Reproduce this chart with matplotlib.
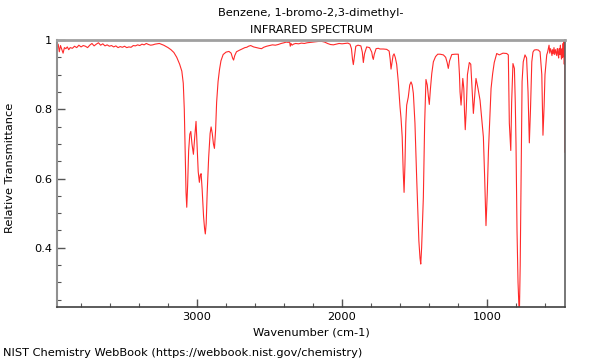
import matplotlib
matplotlib.use("Agg")
import matplotlib.pyplot as plt
from matplotlib.ticker import MultipleLocator, FixedLocator

title_line1 = "Benzene, 1-bromo-2,3-dimethyl-"
title_line2 = "INFRARED SPECTRUM"
x_label = "Wavenumber (cm-1)"
y_label = "Relative Transmittance"
footer = "NIST Chemistry WebBook (https://webbook.nist.gov/chemistry)"

x_ticks = [3000, 2000, 1000]
y_ticks = [0.4, 0.6, 0.8, 1.0]
y_tick_labels = ["0.4", "0.6", "0.8", "1"]

wavenumber = [
    3966, 3958, 3950, 3942, 3934, 3924, 3915, 3905, 3895, 3885, 3875, 3860, 3845, 3830,
    3815, 3800, 3785, 3770, 3755, 3740, 3725, 3710, 3695, 3680, 3665, 3650, 3635, 3620,
    3605, 3590, 3575, 3560, 3545, 3530, 3515, 3500, 3485, 3470, 3455, 3440, 3425, 3410,
    3395, 3380, 3365, 3350, 3335, 3320, 3305, 3290, 3260, 3230, 3200, 3180, 3160, 3140,
    3120, 3105, 3095, 3088, 3082, 3076, 3071, 3065, 3058, 3050, 3043, 3035, 3025, 3016,
    3007, 3000, 2992, 2984, 2978, 2972, 2965, 2955, 2948, 2943, 2937, 2930, 2920, 2910,
    2903, 2895, 2887, 2880, 2872, 2865, 2855, 2845, 2835, 2820, 2800, 2780, 2765, 2755,
    2748, 2740, 2728, 2710, 2690, 2670, 2657, 2645, 2630, 2610, 2590, 2570, 2555, 2540,
    2520, 2500, 2480, 2460, 2440, 2420, 2400, 2385, 2370, 2362, 2357, 2352, 2345, 2335,
    2320, 2300, 2280, 2260, 2240, 2220, 2200, 2180, 2160, 2140, 2120, 2100, 2080, 2060,
    2040, 2020, 2000, 1980, 1960, 1945, 1935, 1928, 1922, 1915, 1905, 1890, 1870, 1860,
    1853, 1845, 1830, 1810, 1795, 1789, 1784, 1778, 1765, 1750, 1738, 1715, 1692, 1675,
    1668, 1662, 1655, 1648, 1641, 1633, 1623, 1612, 1600, 1593, 1585, 1578, 1572, 1566,
    1560, 1554, 1543, 1533, 1524, 1516, 1508, 1497, 1485, 1470, 1462, 1457, 1451, 1445,
    1439, 1430, 1421, 1412, 1405, 1398, 1390, 1381, 1370, 1355, 1340, 1324, 1301, 1285,
    1275, 1267, 1258, 1243, 1220, 1198, 1190, 1186, 1179, 1173, 1167, 1160, 1155, 1150,
    1143, 1135, 1122, 1112, 1103, 1094, 1085, 1076, 1062, 1048, 1036, 1025, 1016, 1007,
    998, 990, 984, 972, 961, 950, 933, 915, 890, 864, 853, 846, 836, 830, 821, 811,
    805, 800, 793, 786, 777, 771, 766, 758, 750, 738, 727, 717, 708, 700, 691, 683,
    674, 660, 646, 634, 622, 614, 606, 600, 588, 582, 577, 572, 567, 562, 557, 552,
    548, 543, 538, 533, 528, 523, 519, 515, 510, 506, 502, 498, 494, 490, 486, 482,
    478, 475, 472, 469, 467, 465, 464, 463, 462.5, 462,
]

transmittance = [
    0.978, 0.988, 0.966, 0.984, 0.974, 0.962, 0.978, 0.975, 0.980, 0.972, 0.978, 0.976, 0.982, 0.978,
    0.985, 0.980, 0.984, 0.982, 0.978, 0.985, 0.990, 0.983, 0.988, 0.992, 0.985, 0.989, 0.983, 0.986,
    0.982, 0.984, 0.980, 0.983, 0.978, 0.981, 0.979, 0.982, 0.978, 0.980, 0.979, 0.984, 0.983, 0.986,
    0.984, 0.988, 0.986, 0.990, 0.987, 0.985, 0.986, 0.988, 0.990, 0.985, 0.978, 0.972, 0.964, 0.950,
    0.930, 0.910, 0.875, 0.800, 0.680, 0.560, 0.517, 0.580, 0.680, 0.728, 0.736, 0.700, 0.670, 0.720,
    0.765, 0.700, 0.620, 0.589, 0.610, 0.614, 0.570, 0.490, 0.455, 0.440, 0.470, 0.560, 0.660, 0.730,
    0.749, 0.730, 0.700, 0.687, 0.740, 0.820, 0.880, 0.915, 0.940, 0.958, 0.965, 0.967, 0.962, 0.948,
    0.942, 0.955, 0.966, 0.970, 0.974, 0.978, 0.979, 0.982, 0.984, 0.980, 0.978, 0.976, 0.975, 0.979,
    0.982, 0.984, 0.986, 0.985, 0.987, 0.990, 0.992, 0.994, 0.993, 0.996, 0.982, 0.990, 0.985, 0.988,
    0.990, 0.989, 0.991, 0.990, 0.992, 0.993, 0.994, 0.995, 0.996, 0.996, 0.994, 0.990, 0.987, 0.986,
    0.988, 0.990, 0.989, 0.990, 0.991, 0.988, 0.975, 0.945, 0.929, 0.950, 0.982, 0.985, 0.983, 0.965,
    0.935, 0.960, 0.980, 0.978, 0.965, 0.950, 0.944, 0.958, 0.975, 0.976, 0.974, 0.974, 0.973, 0.968,
    0.945, 0.916, 0.935, 0.955, 0.960, 0.950, 0.930, 0.880, 0.807, 0.774, 0.720, 0.620, 0.560, 0.640,
    0.760, 0.812, 0.835, 0.870, 0.879, 0.870, 0.846, 0.760, 0.600, 0.420, 0.370, 0.353, 0.400, 0.470,
    0.546, 0.760, 0.886, 0.870, 0.840, 0.814, 0.860, 0.903, 0.937, 0.952, 0.959, 0.959, 0.957, 0.950,
    0.935, 0.918, 0.940, 0.958, 0.959, 0.959, 0.900, 0.850, 0.812, 0.850, 0.889, 0.860, 0.790, 0.741,
    0.800, 0.900, 0.935, 0.930, 0.860, 0.788, 0.840, 0.889, 0.860, 0.826, 0.770, 0.720, 0.600, 0.464,
    0.560, 0.680, 0.739, 0.860, 0.903, 0.935, 0.961, 0.957, 0.962, 0.961, 0.957, 0.760, 0.681, 0.820,
    0.932, 0.918, 0.820, 0.700, 0.450, 0.300, 0.200, 0.350, 0.550, 0.880, 0.937, 0.957, 0.948, 0.850,
    0.703, 0.800, 0.937, 0.965, 0.971, 0.972, 0.971, 0.966, 0.900, 0.725, 0.810, 0.900, 0.957, 0.965,
    0.975, 0.985, 0.962, 0.975, 0.968, 0.955, 0.972, 0.960, 0.978, 0.958, 0.972, 0.962, 0.955, 0.975,
    0.962, 0.948, 0.975, 0.958, 0.985, 0.960, 0.945, 0.975, 0.950, 0.990, 0.955, 0.998, 0.930, 0.985,
    1.000, 0.940, 0.990, 0.676,
]

FS = 8.2

fig = plt.figure(figsize=(6, 3.6), dpi=100)
ax = fig.add_axes([57 / 600, 53 / 360, 508 / 600, 267 / 360])

ax.plot(wavenumber, transmittance, color="#ff2a2a", linewidth=0.8)

ax.set_xlim(3966, 462)
ax.set_ylim(0.229, 1.0)

ax.xaxis.set_major_locator(FixedLocator(x_ticks))
ax.xaxis.set_minor_locator(MultipleLocator(200))
ax.set_yticks(y_ticks)
ax.set_yticklabels(y_tick_labels)
ax.yaxis.set_minor_locator(MultipleLocator(0.05))

ax.tick_params(which="both", direction="in", labelsize=FS, colors="#555555", labelcolor="black")
ax.tick_params(which="major", length=6, width=1)
ax.tick_params(which="minor", length=3, width=0.8)
ax.tick_params(axis="x", which="both", top=False)
ax.tick_params(axis="y", which="both", right=False)

ax.spines["top"].set_color("#a0a0a0")
ax.spines["top"].set_linewidth(2)
ax.spines["left"].set_color("#909090")
ax.spines["left"].set_linewidth(1.5)
ax.spines["right"].set_color("#606060")
ax.spines["right"].set_linewidth(1.2)
ax.spines["bottom"].set_color("#404040")
ax.spines["bottom"].set_linewidth(1.2)

ax.set_xlabel(x_label, fontsize=FS, labelpad=4)
fig.text(10 / 600, 1 - 168 / 360, y_label, rotation=90, fontsize=FS, ha="center", va="center")
fig.text(311 / 600, 1 - 13 / 360, title_line1, fontsize=FS, ha="center", va="center")
fig.text(311 / 600, 1 - 30 / 360, title_line2, fontsize=FS, ha="center", va="center")
fig.text(3 / 600, 1 - 353 / 360, footer, fontsize=FS, ha="left", va="center")

fig.savefig("out.png", dpi=100)
